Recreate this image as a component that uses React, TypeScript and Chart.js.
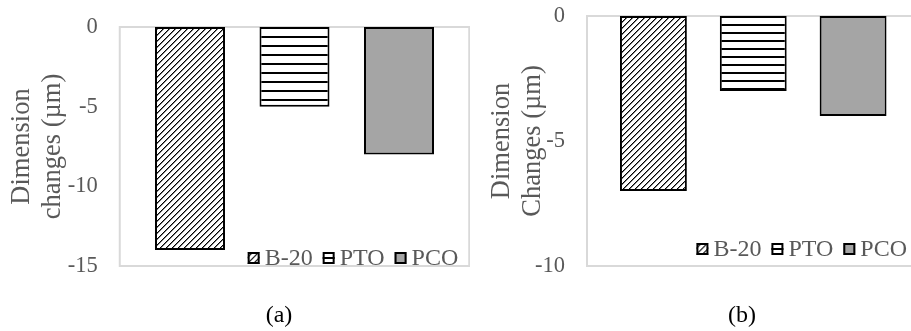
import React, { useEffect, useRef } from "react";
import { Chart, registerables } from "chart.js";

Chart.register(...registerables);

// ---- data ----
const categories = ["B-20", "PTO", "PCO"];
const valuesA = [-14, -5, -8];
const valuesB = [-7, -3, -4];
const yRangeA = [-15, 0];
const yRangeB = [-10, 0];
const yStep = 5;
const axisTitleA = ["Dimension", "changes (µm)"];
const axisTitleB = ["Dimension", "Changes (µm)"];
const captionA = "(a)";
const captionB = "(b)";

const FONT = "'Liberation Serif', 'Times New Roman', serif";
const GRAY_TEXT = "#595959";

function makeDiag(ctx: CanvasRenderingContext2D) {
  const c = document.createElement("canvas");
  c.width = 6;
  c.height = 6;
  const g = c.getContext("2d")!;
  g.fillStyle = "#ffffff";
  g.fillRect(0, 0, 6, 6);
  g.fillStyle = "#000000";
  for (let i = 0; i < 6; i++) g.fillRect(i, 5 - i, 1, 1);
  g.fillStyle = "rgba(0,0,0,0.5)";
  for (let i = 0; i < 6; i++) g.fillRect((i + 1) % 6, 5 - i, 1, 1);
  return ctx.createPattern(c, "repeat")!;
}

function makeHoriz(ctx: CanvasRenderingContext2D, h: number) {
  const c = document.createElement("canvas");
  c.width = 8;
  c.height = h;
  const g = c.getContext("2d")!;
  g.fillStyle = "#ffffff";
  g.fillRect(0, 0, 8, h);
  g.fillStyle = "#000000";
  g.fillRect(0, 0, 8, 2);
  return ctx.createPattern(c, "repeat")!;
}

const framePlugin = {
  id: "frame",
  beforeDatasetsDraw(chart: any, _args: any, opts: any) {
    const { ctx, chartArea: a } = chart;
    ctx.save();
    ctx.strokeStyle = "#D9D9D9";
    ctx.lineWidth = 2;
    ctx.strokeRect(a.left - opts.ext, a.top, a.width + 2 * opts.ext, a.height);
    ctx.restore();
  },
};

const insideLegendPlugin = {
  id: "insideLegend",
  afterDatasetsDraw(chart: any, _args: any, opts: any) {
    const { ctx, chartArea: a } = chart;
    const labels: string[] = chart.data.labels;
    const fills = chart.data.datasets[0].backgroundColor;
    const box = 12;
    const gapText = 5;
    const gapItem = 10;
    ctx.save();
    ctx.font = `${opts.fontSize}px ${FONT}`;
    const widths = labels.map((l) => ctx.measureText(l).width);
    const total =
      widths.reduce((s, w) => s + box + gapText + w, 0) + gapItem * (labels.length - 1);
    let x = a.right + opts.dx - total;
    const cy = a.bottom - opts.dyFromBottom;
    labels.forEach((l, i) => {
      const top = cy - box / 2;
      ctx.save();
      ctx.translate(x, top + 5);
      ctx.fillStyle = fills[i];
      ctx.fillRect(0, -5, box, box);
      ctx.restore();
      ctx.lineWidth = 2;
      ctx.strokeStyle = "#000000";
      ctx.strokeRect(x + 1, top + 1, box - 2, box - 2);
      ctx.fillStyle = GRAY_TEXT;
      ctx.textBaseline = "middle";
      ctx.textAlign = "left";
      ctx.fillText(l, x + box + gapText, cy + 1);
      x += box + gapText + widths[i] + gapItem;
    });
    ctx.restore();
  },
};

type PanelProps = {
  values: number[];
  yRange: number[];
  title: string[];
  caption: string;
  left: number;
  width: number;
  padTop: number;
  padRight: number;
  axisWidth: number;
  titlePad: number;
  tickPad: number;
  frameExt: number;
  legendDx: number;
  legendDy: number;
  hatchH: number;
  captionX: number;
};

function Panel(p: PanelProps) {
  const ref = useRef<HTMLCanvasElement>(null);
  useEffect(() => {
    const canvas = ref.current!;
    const ctx = canvas.getContext("2d")!;
    const fills = [makeDiag(ctx), makeHoriz(ctx, p.hatchH), "#A5A5A5"];
    const chart = new Chart(canvas, {
      type: "bar",
      data: {
        labels: categories,
        datasets: [
          {
            data: p.values,
            backgroundColor: fills as any,
            borderColor: "#000000",
            borderWidth: 2,
            borderSkipped: false,
            barPercentage: 0.67,
            categoryPercentage: 1,
          },
        ],
      },
      options: {
        animation: false,
        responsive: false,
        maintainAspectRatio: false,
        events: [],
        layout: { padding: { top: p.padTop, right: p.padRight, bottom: 65, left: 0 }, autoPadding: false },
        plugins: {
          legend: { display: false },
          tooltip: { enabled: false },
          frame: { ext: p.frameExt },
          insideLegend: { fontSize: 24, dx: p.legendDx, dyFromBottom: p.legendDy },
        } as any,
        scales: {
          x: { display: false },
          y: {
            min: p.yRange[0],
            max: p.yRange[1],
            ticks: {
              stepSize: yStep,
              color: GRAY_TEXT,
              font: { family: FONT, size: 22.5 },
              padding: p.tickPad,
            },
            grid: { display: false, drawTicks: false },
            border: { display: false },
            title: {
              display: true,
              text: p.title,
              color: GRAY_TEXT,
              font: { family: FONT, size: 26.5, lineHeight: 1.17 },
              padding: { top: p.titlePad, bottom: 0 },
            },
            afterFit: (s: any) => {
              s.width = p.axisWidth;
              s.paddingTop = 0;
              s.paddingBottom = 0;
            },
          },
        },
      },
      plugins: [framePlugin, insideLegendPlugin],
    });
    return () => chart.destroy();
  }, []);
  return (
    <>
      <canvas
        ref={ref}
        width={p.width}
        height={331}
        style={{ position: "absolute", left: p.left, top: 0, width: p.width, height: 331, display: "block" }}
      />
      <div
        style={{
          position: "absolute",
          left: p.captionX - 50,
          top: 299,
          width: 100,
          textAlign: "center",
          fontFamily: FONT,
          fontSize: 24,
          lineHeight: "30px",
          color: "#000000",
        }}
      >
        {p.caption}
      </div>
    </>
  );
}

export default function App() {
  return (
    <div style={{ position: "absolute", left: 0, top: 0, width: 911, height: 331, background: "#ffffff", overflow: "hidden" }}>
      <Panel
        values={valuesA}
        yRange={yRangeA}
        title={axisTitleA}
        caption={captionA}
        left={0}
        width={470}
        padTop={27}
        padRight={18.75}
        axisWidth={137.75}
        titlePad={6.5}
        tickPad={40}
        frameExt={18}
        legendDx={7}
        legendDy={8}
        hatchH={9}
        captionX={279}
      />
      <Panel
        values={valuesB}
        yRange={yRangeB}
        title={axisTitleB}
        caption={captionB}
        left={470}
        width={441}
        padTop={16}
        padRight={8}
        axisWidth={133.5}
        titlePad={16.5}
        tickPad={38.5}
        frameExt={16.5}
        legendDx={4}
        legendDy={17}
        hatchH={8}
        captionX={742}
      />
    </div>
  );
}
